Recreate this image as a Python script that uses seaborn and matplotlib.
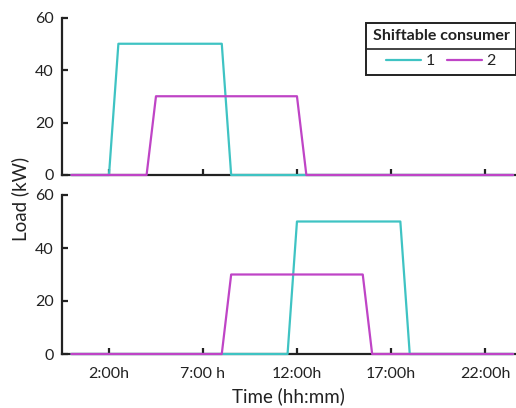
import matplotlib
matplotlib.use("Agg")
import matplotlib.pyplot as plt
import seaborn as sns
import pandas as pd
from matplotlib.lines import Line2D

# ---- data (hours, kW) ----
top_c1_time = [0, 2, 2.5, 8, 8.5, 23.5]
top_c1_load = [0, 0, 50, 50, 0, 0]
top_c2_time = [0, 4, 4.5, 12, 12.5, 23.5]
top_c2_load = [0, 0, 30, 30, 0, 0]
bot_c1_time = [0, 11.5, 12, 17.5, 18, 23.5]
bot_c1_load = [0, 0, 50, 50, 0, 0]
bot_c2_time = [0, 8, 8.5, 15.5, 16, 23.5]
bot_c2_load = [0, 0, 30, 30, 0, 0]
consumers = ["1", "2"]
xtick_pos = [2, 7, 12, 17, 22]
xtick_labels = ["2:00h", "7:00 h", "12:00h", "17:00h", "22:00h"]
ytick_pos = [0, 20, 40, 60]

colors = {"1": "#3fc3c3", "2": "#bf44c6"}

def frame(t1, l1, t2, l2):
    return pd.concat([
        pd.DataFrame({"time": t1, "load": l1, "consumer": consumers[0]}),
        pd.DataFrame({"time": t2, "load": l2, "consumer": consumers[1]}),
    ], ignore_index=True)

df_top = frame(top_c1_time, top_c1_load, top_c2_time, top_c2_load)
df_bot = frame(bot_c1_time, bot_c1_load, bot_c2_time, bot_c2_load)

sns.set_style("ticks")
plt.rcParams["font.family"] = ["Lato", "DejaVu Sans"]
plt.rcParams["text.color"] = "#222222"

W, H = 516, 408
fig = plt.figure(figsize=(W / 100, H / 100), dpi=100)

def px_axes(x0, x1, ytop, ybot):
    return fig.add_axes([x0 / W, 1 - ybot / H, (x1 - x0) / W, (ybot - ytop) / H])

ax1 = px_axes(62, 515, 17.5, 175)
ax2 = px_axes(62, 515, 195, 354)

for ax, df, show_x in [(ax1, df_top, False), (ax2, df_bot, True)]:
    sns.lineplot(data=df, x="time", y="load", hue="consumer", palette=colors,
                 hue_order=consumers, ax=ax, linewidth=1.6, legend=False)
    for ln in ax.get_lines():
        ln.set_clip_on(False)
        ln.set_zorder(3)
    ax.set_xlim(-0.5, 23.6)
    ax.set_ylim(0, 60)
    ax.set_xticks(xtick_pos)
    ax.set_yticks(ytick_pos)
    ax.set_yticklabels([str(v) for v in ytick_pos])
    if show_x:
        ax.set_xticklabels(xtick_labels)
        ax.set_xlabel("Time (hh:mm)", fontsize=13.5, labelpad=5, color="#222222")
    else:
        ax.set_xticklabels([])
        ax.set_xlabel("")
    ax.set_ylabel("")
    sns.despine(ax=ax)
    for s in ["left", "bottom"]:
        ax.spines[s].set_linewidth(1.6)
        ax.spines[s].set_color("#222222")
        ax.spines[s].set_zorder(1)
    ax.tick_params(direction="in", length=4, width=1.6, color="#222222",
                   labelsize=11.5, labelcolor="#222222")
    ax.tick_params(axis="x", pad=9)
    ax.tick_params(axis="y", pad=6)

fig.text(20 / W, 1 - 199 / H, "Load (kW)", rotation=90, va="center", ha="center",
         fontsize=13.5, color="#222222")

handles = [Line2D([], [], color=colors[c], linewidth=1.6) for c in consumers]
leg = fig.legend(handles, consumers, title="Shiftable consumer", ncol=2,
                 loc="upper right", bbox_to_anchor=(515.5 / W, 1 - 23 / H),
                 bbox_transform=fig.transFigure, borderaxespad=0,
                 fancybox=False, edgecolor="#222222", framealpha=1,
                 fontsize=11.5, title_fontsize=11.5, handlelength=2.2,
                 handletextpad=0.3, columnspacing=0.7, borderpad=0.38,
                 labelspacing=0.7)
leg.get_title().set_fontweight("bold")
leg.get_frame().set_linewidth(1.4)

fig.canvas.draw()
renderer = fig.canvas.get_renderer()
fb = leg.get_frame().get_window_extent(renderer)
tb = leg.get_title().get_window_extent(renderer)
hb = leg._legend_handle_box.get_window_extent(renderer)
ysep = (tb.y0 + hb.y1) / 2
sep = Line2D([fb.x0 / W, fb.x1 / W], [ysep / H, ysep / H],
             transform=fig.transFigure, color="#222222", linewidth=1.2)
sep.set_zorder(20)
fig.add_artist(sep)

fig.savefig("out.png", dpi=100)
